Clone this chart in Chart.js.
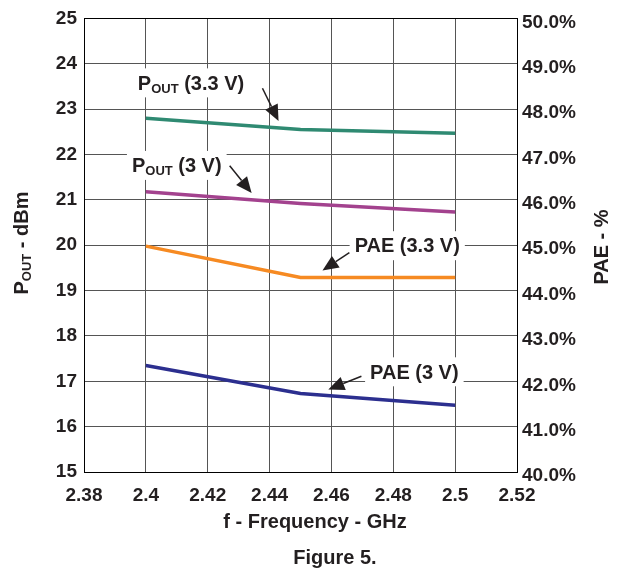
<!DOCTYPE html>
<html>
<head>
<meta charset="utf-8">
<script src="https://cdn.jsdelivr.net/npm/chart.js@4.4.1/dist/chart.umd.min.js"></script>
<style>
  html, body { margin: 0; padding: 0; background: #fff; }
  #wrap { width: 618px; height: 570px; }
</style>
</head>
<body>
<div id="wrap"><canvas id="chart"></canvas></div>
<script>
// values
const frequencies = [2.4, 2.45, 2.5];
const pout33 = [22.80, 22.55, 22.47];
const pout3 = [21.18, 20.92, 20.73];
const pae33 = [44.98, 44.29, 44.29];
const pae3 = [42.35, 41.73, 41.47];

const xTicks = [2.38, 2.4, 2.42, 2.44, 2.46, 2.48, 2.5, 2.52];
const xTickLabels = ['2.38', '2.4', '2.42', '2.44', '2.46', '2.48', '2.5', '2.52'];
const poutTicks = [15, 16, 17, 18, 19, 20, 21, 22, 23, 24, 25];
const paeTicks = [40, 41, 42, 43, 44, 45, 46, 47, 48, 49, 50];
const paeTickLabels = ['40.0%', '41.0%', '42.0%', '43.0%', '44.0%', '45.0%', '46.0%', '47.0%', '48.0%', '49.0%', '50.0%'];

const FONT = "'Liberation Sans', Arial, sans-serif";
const TEXT = '#231f20';

// callout labels (left anchor, in frequency / dBm units) and their arrows
const callouts = [
    { parts: [['P', 20], ['OUT', 13, 3], [' (3.3 V)', 20]], x: 2.3974, y: 23.59 },
    { parts: [['P', 20], ['OUT', 13, 3], [' (3 V)', 20]], x: 2.3955, y: 21.77 },
    { parts: [['PAE (3.3 V)', 20]], x: 2.4675, y: 20.0 },
    { parts: [['PAE (3 V)', 20]], x: 2.4725, y: 17.22 }
];
const arrows = [
    { from: [2.4377, 23.46], to: [2.4429, 22.74] },
    { from: [2.4271, 21.75], to: [2.4342, 21.15] },
    { from: [2.4658, 19.835], to: [2.4571, 19.44] },
    { from: [2.4697, 17.11], to: [2.4590, 16.82] }
];

function partsWidth(ctx, parts) {
    let w = 0;
    parts.forEach(p => {
        ctx.font = 'bold ' + p[1] + 'px ' + FONT;
        w += ctx.measureText(p[0]).width;
    });
    return w;
}

// draws text pieces on one baseline, pieces with a third value are shifted down (subscript)
function drawParts(ctx, parts, x, cy) {
    const base = cy + 0.36 * parts[0][1];
    ctx.textBaseline = 'alphabetic';
    ctx.textAlign = 'left';
    ctx.fillStyle = TEXT;
    parts.forEach(p => {
        ctx.font = 'bold ' + p[1] + 'px ' + FONT;
        ctx.fillText(p[0], x, base + (p[2] || 0));
        x += ctx.measureText(p[0]).width;
    });
}

function drawArrow(ctx, x1, y1, x2, y2) {
    const ang = Math.atan2(y2 - y1, x2 - x1);
    const len = 16, half = 7;
    const bx = x2 - len * Math.cos(ang), by = y2 - len * Math.sin(ang);
    ctx.strokeStyle = TEXT;
    ctx.lineWidth = 1.5;
    ctx.beginPath();
    ctx.moveTo(x1, y1);
    ctx.lineTo(bx, by);
    ctx.stroke();
    ctx.fillStyle = TEXT;
    ctx.beginPath();
    ctx.moveTo(x2, y2);
    ctx.lineTo(bx + half * Math.sin(ang), by - half * Math.cos(ang));
    ctx.lineTo(bx - half * Math.sin(ang), by + half * Math.cos(ang));
    ctx.closePath();
    ctx.fill();
}

const figurePlugin = {
    id: 'figure',
    beforeDatasetsDraw(chart) {
        const a = chart.chartArea;
        const ctx = chart.ctx;
        ctx.save();
        ctx.strokeStyle = '#000';
        ctx.lineWidth = 1;
        ctx.strokeRect(Math.round(a.left) + 0.5, Math.round(a.top) + 0.5,
            Math.round(a.right - a.left), Math.round(a.bottom - a.top));
        ctx.restore();
    },
    afterDatasetsDraw(chart) {
        const ctx = chart.ctx;
        const sx = chart.scales.x, sy = chart.scales.y;
        ctx.save();
        callouts.forEach(c => {
            const px = sx.getPixelForValue(c.x);
            const py = sy.getPixelForValue(c.y);
            const w = partsWidth(ctx, c.parts);
            ctx.fillStyle = '#fff';
            ctx.fillRect(px - 5, py - 14, w + 10, 29);
            drawParts(ctx, c.parts, px, py);
        });
        arrows.forEach(ar => {
            drawArrow(ctx,
                sx.getPixelForValue(ar.from[0]), sy.getPixelForValue(ar.from[1]),
                sx.getPixelForValue(ar.to[0]), sy.getPixelForValue(ar.to[1]));
        });
        ctx.restore();
    },
    afterDraw(chart) {
        const ctx = chart.ctx;
        ctx.save();
        // left axis title
        const left = [['P', 20], ['OUT', 13, 3], [' - dBm', 20]];
        ctx.translate(21, 243);
        ctx.rotate(-Math.PI / 2);
        drawParts(ctx, left, -partsWidth(ctx, left) / 2, 0);
        ctx.restore();

        ctx.save();
        const right = [['PAE - %', 20]];
        ctx.translate(601, 247);
        ctx.rotate(-Math.PI / 2);
        drawParts(ctx, right, -partsWidth(ctx, right) / 2, 0);
        ctx.restore();

        ctx.save();
        const xt = [['f - Frequency - GHz', 20]];
        drawParts(ctx, xt, 315 - partsWidth(ctx, xt) / 2, 521);
        const cap = [['Figure 5.', 20]];
        drawParts(ctx, cap, 335 - partsWidth(ctx, cap) / 2, 557);
        ctx.restore();
    }
};

const tickFont = { family: FONT, size: 19, weight: 'bold' };

function series(values) {
    return frequencies.map((f, i) => ({ x: f, y: values[i] }));
}

new Chart(document.getElementById('chart'), {
    type: 'line',
    data: {
        datasets: [
            { label: 'POUT (3.3 V)', data: series(pout33), borderColor: '#2f8a72', yAxisID: 'y' },
            { label: 'POUT (3 V)', data: series(pout3), borderColor: '#a3428e', yAxisID: 'y' },
            { label: 'PAE (3.3 V)', data: series(pae33), borderColor: '#f68a22', yAxisID: 'y2' },
            { label: 'PAE (3 V)', data: series(pae3), borderColor: '#2c2f8f', yAxisID: 'y2' }
        ]
    },
    options: {
        responsive: true,
        maintainAspectRatio: false,
        animation: false,
        devicePixelRatio: 1,
        layout: { padding: { top: 17, left: 0, right: 0, bottom: 0 } },
        elements: {
            line: { borderWidth: 3.5, tension: 0, fill: false, borderCapStyle: 'butt' },
            point: { radius: 0, hoverRadius: 0 }
        },
        plugins: {
            legend: { display: false },
            tooltip: { enabled: false }
        },
        scales: {
            x: {
                type: 'linear',
                min: 2.38,
                max: 2.52,
                afterBuildTicks: s => { s.ticks = xTicks.map(v => ({ value: v })); },
                afterFit: s => { s.height = 98; },
                ticks: {
                    font: tickFont,
                    color: TEXT,
                    padding: 12,
                    maxRotation: 0,
                    autoSkip: false,
                    callback: (v, i) => xTickLabels[i]
                },
                grid: { color: '#555', drawTicks: false },
                border: { color: '#000', width: 1 }
            },
            y: {
                position: 'left',
                min: 15,
                max: 25,
                afterBuildTicks: s => { s.ticks = poutTicks.map(v => ({ value: v })); },
                afterFit: s => { s.width = 84; },
                ticks: {
                    font: tickFont,
                    color: TEXT,
                    padding: 7,
                    autoSkip: false,
                    callback: (v, i) => String(poutTicks[i])
                },
                grid: { color: '#555', drawTicks: false },
                border: { color: '#000', width: 1 }
            },
            y2: {
                position: 'right',
                min: 40,
                max: 50,
                afterBuildTicks: s => { s.ticks = paeTicks.map(v => ({ value: v })); },
                afterFit: s => { s.width = 101; },
                ticks: {
                    font: tickFont,
                    color: TEXT,
                    padding: 5,
                    labelOffset: 4,
                    autoSkip: false,
                    callback: (v, i) => paeTickLabels[i]
                },
                grid: { display: false, drawTicks: false },
                border: { color: '#000', width: 1 }
            }
        }
    },
    plugins: [figurePlugin]
});
</script>
</body>
</html>
